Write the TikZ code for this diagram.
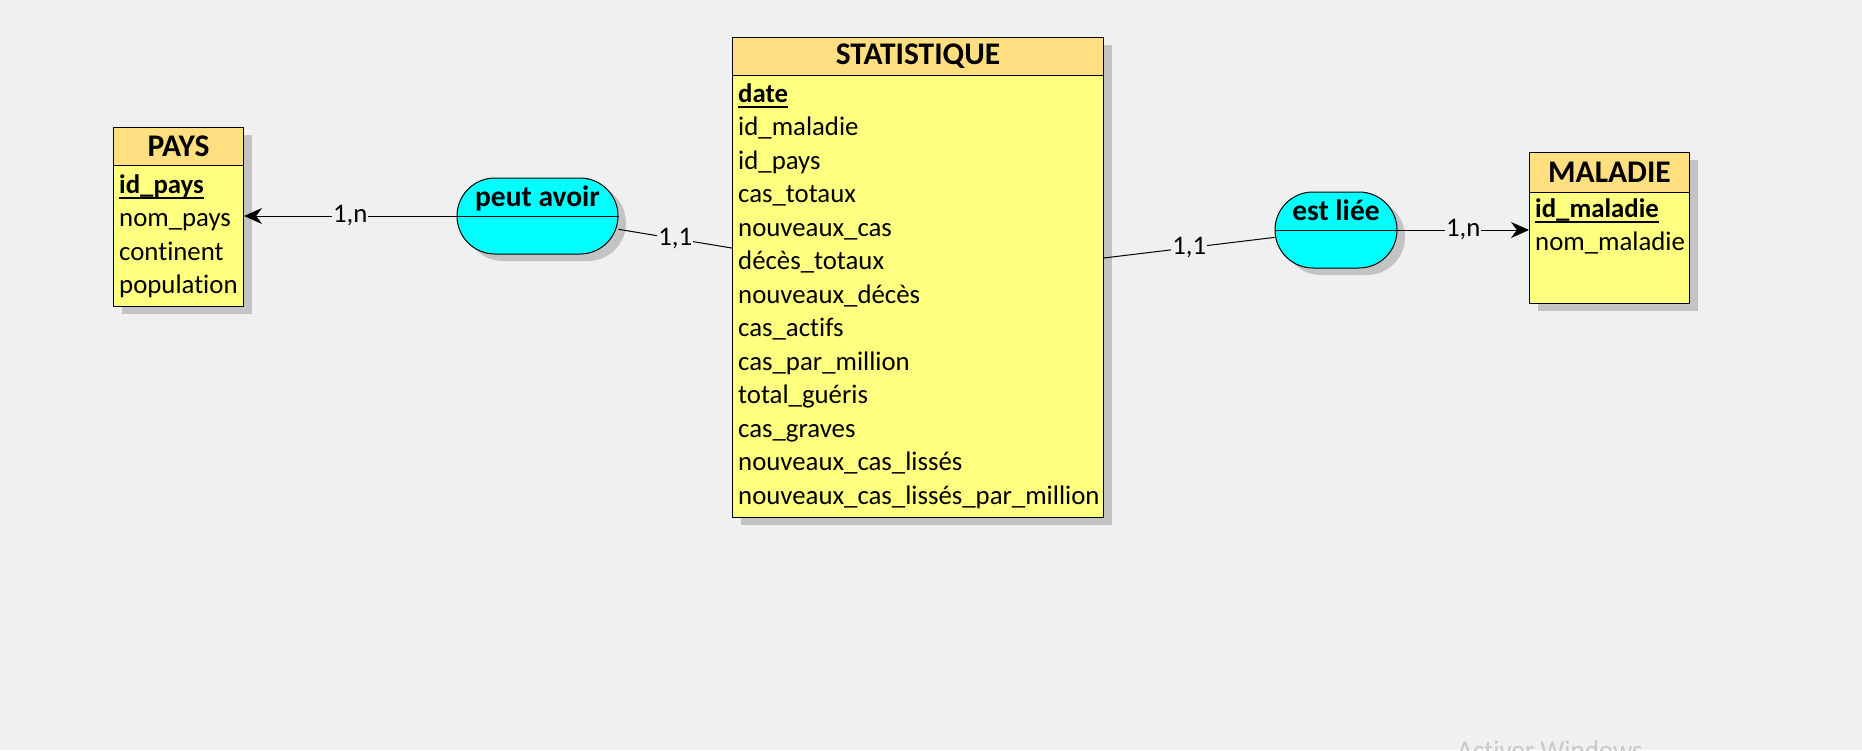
\documentclass[tikz,border=0pt]{standalone}
\usepackage{fontspec}
\setmainfont{Carlito}[Ligatures=NoCommon]
\usetikzlibrary{arrows.meta,shadows}

\definecolor{fond}{HTML}{F0F0F0}
\definecolor{jaunetete}{HTML}{FFDF80}
\definecolor{jaunecorps}{HTML}{FFFF80}
\definecolor{cyanasso}{HTML}{00FFFF}
\definecolor{grisombre}{HTML}{C3C3C3}
\definecolor{grisfiligrane}{HTML}{C8C8C8}

\tikzset{
  ombrage/.style={drop shadow={shadow xshift=8pt, shadow yshift=-7pt, fill=grisombre, opacity=1}},
  entite/.style={draw, fill=jaunecorps, line width=1pt, anchor=north west, inner sep=0pt, ombrage},
  titre/.style={draw, fill=jaunetete, line width=1pt, anchor=north west, inner sep=0pt,
    font=\fontsize{31.5}{37}\selectfont\bfseries},
  attribut/.style={anchor=base west, inner sep=0pt, font=\fontsize{26.8}{32}\selectfont},
  cle/.style={attribut, font=\fontsize{26.8}{32}\selectfont\bfseries},
  souligne/.style={line width=1.5pt},
  asso/.style={draw, fill=cyanasso, line width=1pt, rounded corners=38pt, minimum height=76,
    inner sep=0pt, ombrage},
  nomasso/.style={anchor=base, inner sep=0pt, font=\fontsize{29.5}{35}\selectfont\bfseries},
  lien/.style={line width=1pt},
  fleche/.style={lien, -{Stealth[length=18pt, width=16pt]}},
  card/.style={fill=fond, inner sep=1pt, font=\fontsize{26.8}{32}\selectfont},
}

\begin{document}
\begin{tikzpicture}[x=1pt,y=-1pt]
  \fill[fond] (0,0) rectangle (1862,750);
  \useasboundingbox (0,0) rectangle (1862,750);
  \clip (0,0) rectangle (1862,750);

  % entite PAYS
  \node[entite, minimum width=130, minimum height=179] (pays) at (113,127) {};
  \node[titre, minimum width=130, minimum height=38] (pays-titre) at (pays.north west) {PAYS};
  \node[cle] (pays-0) at (119,193) {id\_pays};
  \draw[souligne] ([yshift=-5pt]pays-0.base west) -- ([yshift=-5pt]pays-0.base east);
  \foreach \champ [count=\i] in {nom\_pays, continent, population}
    \node[attribut] (pays-\i) at (119,{193+33.5*\i}) {\champ};

  % entite STATISTIQUE
  \node[entite, minimum width=371, minimum height=480] (stat) at (732,37) {};
  \node[titre, minimum width=371, minimum height=38] (stat-titre) at (stat.north west) {STATISTIQUE};
  \node[cle] (stat-0) at (738,102) {date};
  \draw[souligne] ([yshift=-5pt]stat-0.base west) -- ([yshift=-5pt]stat-0.base east);
  \foreach \champ [count=\i] in {id\_maladie, id\_pays, cas\_totaux, nouveaux\_cas, décès\_totaux,
      nouveaux\_décès, cas\_actifs, cas\_par\_million, total\_guéris, cas\_graves,
      nouveaux\_cas\_lissés, nouveaux\_cas\_lissés\_par\_million}
    \node[attribut] (stat-\i) at (738,{102+33.5*\i}) {\champ};

  % entite MALADIE
  \node[entite, minimum width=160, minimum height=151] (maladie) at (1529,152) {};
  \node[titre, minimum width=160, minimum height=40] (maladie-titre) at (maladie.north west) {MALADIE};
  \node[cle] (maladie-0) at (1535,217) {id\_maladie};
  \draw[souligne] ([yshift=-5pt]maladie-0.base west) -- ([yshift=-5pt]maladie-0.base east);
  \node[attribut] (maladie-1) at (1535,250.5) {nom\_maladie};

  % associations
  \node[asso, minimum width=161] (peut) at (537.5,216) {};
  \draw[lien] (peut.west) -- (peut.east);
  \node[nomasso] (peut-nom) at ([yshift=10pt]peut.center) {peut avoir};

  \node[asso, minimum width=122] (liee) at (1336,230) {};
  \draw[lien] (liee.west) -- (liee.east);
  \node[nomasso] (liee-nom) at ([yshift=10pt]liee.center) {est liée};

  % liens
  \draw[fleche] (peut) -- (peut -| pays.east) node[card, midway] (card-1) {1,n};
  \draw[lien] (peut) -- (stat.171.4) node[card, midway] (card-2) {1,1};
  \draw[lien] (stat.6.2) -- (liee) node[card, midway] (card-3) {1,1};
  \draw[fleche] (liee) -- (liee -| maladie.west) node[card, midway] (card-4) {1,n};

  \node[anchor=base west, inner sep=0pt, text=grisfiligrane, font=\fontsize{27}{32}\selectfont]
    (filigrane) at (1457,759) {Activer Windows};
\end{tikzpicture}
\end{document}
